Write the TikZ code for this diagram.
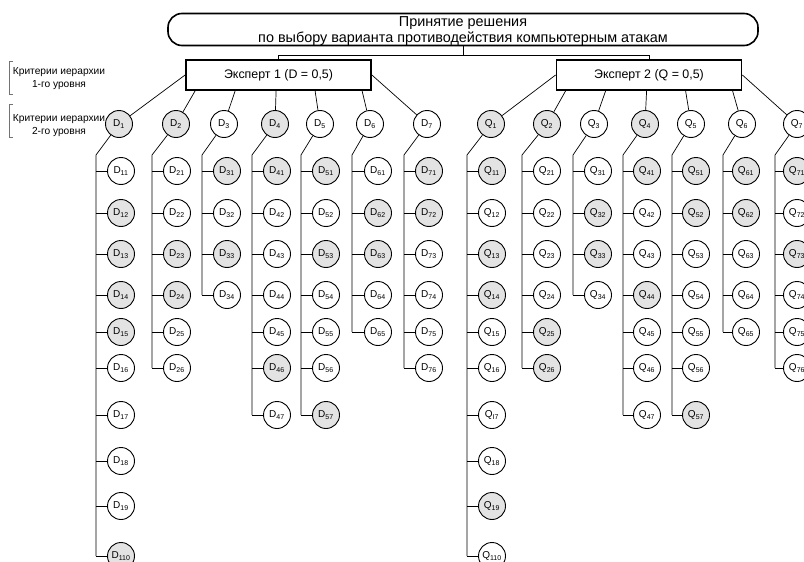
\documentclass[tikz,border=0pt]{standalone}
\usepackage{fontspec}
\setmainfont{Liberation Sans}
\usetikzlibrary{calc}
\begin{document}
\begin{tikzpicture}[x=1pt,y=-1pt,
  cnode/.style={circle,draw,line width=0.9pt,minimum size=27pt,inner sep=0pt,
                font=\fontsize{10}{11}\selectfont},
  wt/.style={fill=white},
  gy/.style={fill=black!11},
  expert/.style={draw,line width=1.8pt,minimum width=185pt,minimum height=30pt,
                 inner sep=0pt,font=\fontsize{12.4}{14}\selectfont},
  link/.style={draw,line width=0.7pt},
  crit/.style={align=center,font=\fontsize{10.2}{13}\selectfont,inner sep=0pt},
  brk/.style={draw=black!55,line width=0.7pt}
]
\useasboundingbox (0,0) rectangle (804,562);
\clip (0,0) rectangle (804,562);

% decision goal
\node[draw,line width=1.6pt,rounded corners=14pt,minimum width=590pt,minimum height=32pt,
      inner sep=0pt,text depth=0pt,align=center,font=\fontsize{14.4}{16}\selectfont] (title) at (463,29.5)
  {Принятие решения\\по выбору варианта противодействия компьютерным атакам};

% experts
\node[expert] (E1) at (278.5,75) {Эксперт 1 (D = 0,5)};
\node[expert] (E2) at (649,75) {Эксперт 2 (Q = 0,5)};

\coordinate (fork) at (463,55);
\draw[link] (title.south) -- (fork);
\draw[link] (fork) -| (E1.north);
\draw[link] (fork) -| (E2.north);

% hierarchy level captions
\node[crit] (cap1) at (59,79) {Критерии иерархии\\1-го уровня};
\node[crit] (cap2) at (59,126) {Критерии иерархии\\2-го уровня};
\draw[brk] (13,61) -- (9.5,61) -- (9.5,94) -- (13,94);
\draw[brk] (13,104) -- (9.5,104) -- (9.5,137) -- (13,137);

% rows of the second-level criteria
\def\rows{{171,213,254,295,332,368,415,461,506,556}}

\foreach \L/\k/\ps/\px/\tx/\cx/\last/\kids in {
  D/1/gy/119/96/121/10/{1/wt/11,2/gy/12,3/gy/13,4/gy/14,5/gy/15,6/wt/16,7/wt/17,8/wt/18,9/wt/19,10/gy/110},
  D/2/gy/176/152/177/6/{1/wt/21,2/wt/22,3/gy/23,4/gy/24,5/wt/25,6/wt/26},
  D/3/wt/224/202/227/4/{1/gy/31,2/wt/32,3/gy/33,4/wt/34},
  D/4/gy/275/252/277/7/{1/gy/41,2/wt/42,3/wt/43,4/wt/44,5/wt/45,6/gy/46,7/wt/47},
  D/5/wt/320/301/326/7/{1/gy/51,2/wt/52,3/gy/53,4/wt/54,5/wt/55,6/wt/56,7/gy/57},
  D/6/wt/370/352/378/5/{1/wt/61,2/gy/62,3/gy/63,4/wt/64,5/wt/65},
  D/7/wt/427/404/429/6/{1/gy/71,2/gy/72,3/wt/73,4/wt/74,5/wt/75,6/wt/76},
  Q/1/gy/491/467/492/10/{1/gy/11,2/wt/12,3/gy/13,4/gy/14,5/wt/15,6/wt/16,7/wt/I7,8/wt/18,9/gy/19,10/wt/110},
  Q/2/gy/547/522/547/6/{1/wt/21,2/wt/22,3/wt/23,4/wt/24,5/gy/25,6/gy/26},
  Q/3/wt/594/573/598/4/{1/wt/31,2/gy/32,3/gy/33,4/wt/34},
  Q/4/gy/645/623/647/7/{1/gy/41,2/wt/42,3/wt/43,4/gy/44,5/wt/45,6/wt/46,7/wt/47},
  Q/5/wt/691/672/696/7/{1/gy/51,2/gy/52,3/wt/53,4/wt/54,5/wt/55,6/wt/56,7/gy/57},
  Q/6/wt/742/723/746/5/{1/gy/61,2/gy/62,3/wt/63,4/wt/64,5/wt/65},
  Q/7/wt/797/775/797/6/{1/gy/71,2/wt/72,3/gy/73,4/wt/74,5/wt/75,6/wt/76}}
{
  \node[cnode,\ps] (\L\k) at (\px,124) {\L\textsubscript{\k}};
  \coordinate (\L\k-top) at (\tx,155);
  \foreach \i/\s/\t in \kids {
    \pgfmathsetmacro\yy{\rows[\i-1]}
    \node[cnode,\s] (\L\k-\i) at (\cx,\yy) {\L\textsubscript{\t}};
    \draw[link] (\L\k-top |- \L\k-\i) -- (\L\k-\i);
  }
  \draw[link] (\L\k) -- (\L\k-top) -- (\L\k-top |- \L\k-\last);
}

% links from the experts to the first-level criteria
\draw[link] (E1.west) -- (D1);
\draw[link] (E1.east) -- (D7);
\draw[link] (E2.west) -- (Q1);
\draw[link] (E2.east) -- (Q7);
\foreach \c/\o in {2/10,3/50,4/91,5/130,6/177} {
  \draw[link] ($(E1.south west)+(\o,0)$) -- (D\c);
  \draw[link] ($(E2.south west)+(\o,0)$) -- (Q\c);
}
\end{tikzpicture}
\end{document}
